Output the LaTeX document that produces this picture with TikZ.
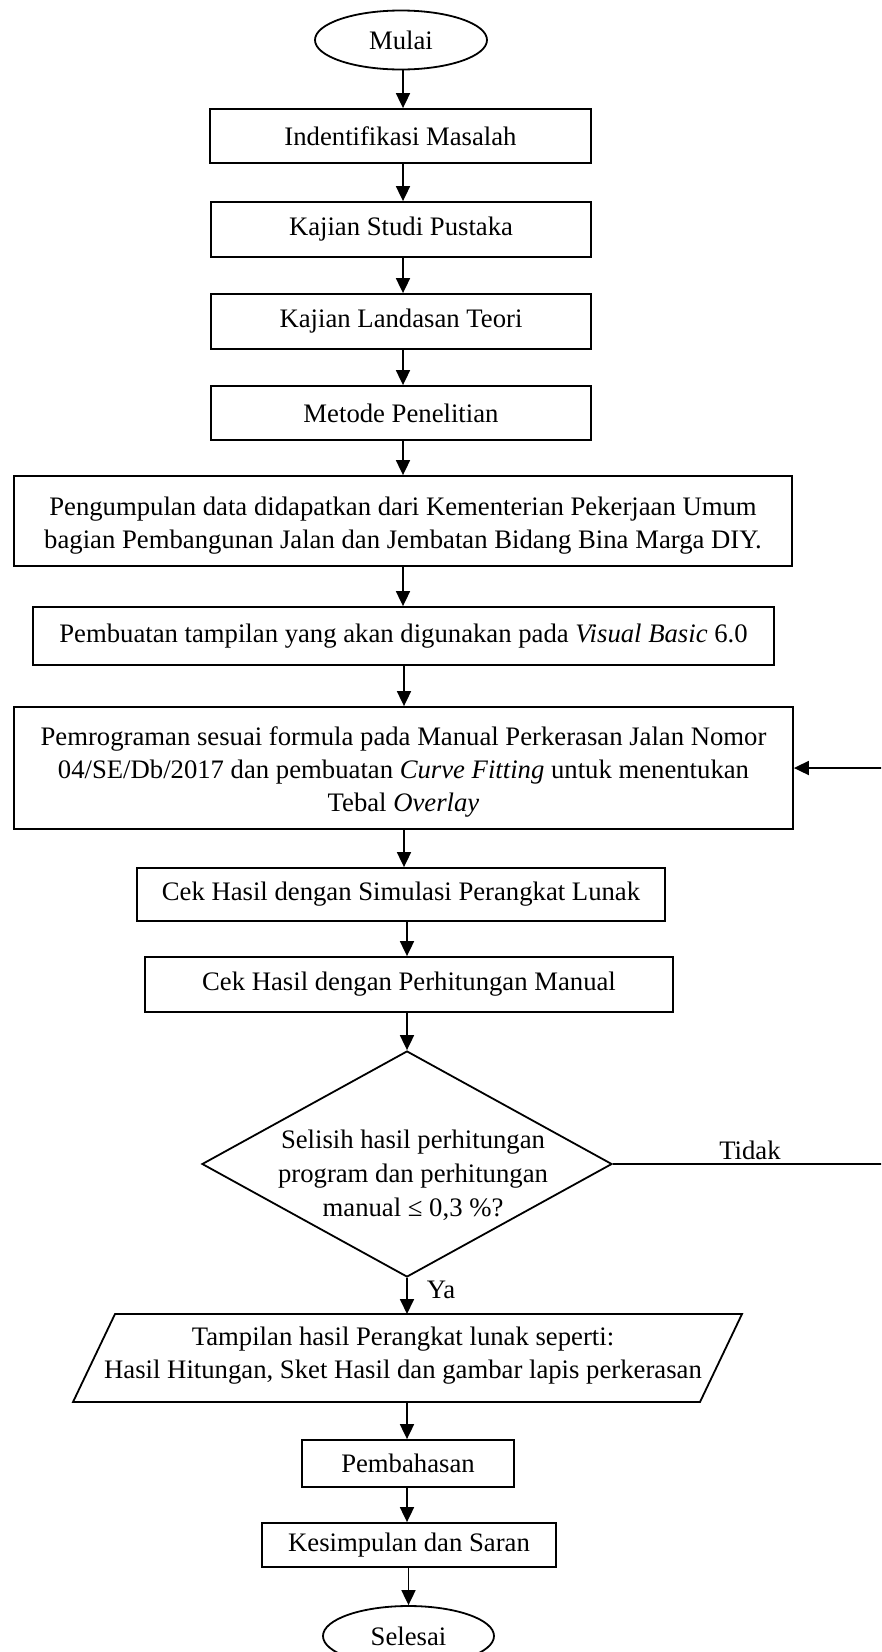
\documentclass[tikz,border=0pt]{standalone}
\usepackage{fontspec}
\setmainfont{Liberation Serif}
\usetikzlibrary{shapes.geometric,arrows.meta,calc}
\begin{document}
\begin{tikzpicture}[x=1pt,y=-1pt,
  every node/.style={font=\fontsize{26.7}{33}\selectfont},
  box/.style={draw, line width=1.8pt, inner sep=0pt, align=center},
  term/.style={draw, ellipse, line width=1.8pt, inner sep=0pt},
  arr/.style={line width=1.8pt, -{Triangle[length=15pt,width=14pt]}},
  conn/.style={line width=1.8pt}]
\useasboundingbox (0,0) rectangle (881,1652);
\clip (0,0) rectangle (881,1652);
% columns for arrows
\coordinate (ca) at (403,0);
\coordinate (cb) at (404,0);
\coordinate (cc) at (407,0);
% nodes
\node[term, minimum width=172pt, minimum height=59pt] (start) at (401,40) {Mulai};
\node[box, minimum width=381pt, minimum height=54pt] (n1) at (400.5,136) {Indentifikasi Masalah};
\node[box, minimum width=380pt, minimum height=55pt] (n2) at (401,229.5) {Kajian Studi Pustaka};
\node[box, minimum width=380pt, minimum height=55pt] (n3) at (401,321.5) {Kajian Landasan Teori};
\node[box, minimum width=380pt, minimum height=54pt] (n4) at (401,413) {Metode Penelitian};
\node[box, minimum width=778pt, minimum height=90pt] (n5) at (403,521) {};
\node[align=center] (t5) at (403,526) {Pengumpulan data didapatkan dari Kementerian Pekerjaan Umum\\bagian Pembangunan Jalan dan Jembatan Bidang Bina Marga DIY.};
\node[box, minimum width=741pt, minimum height=58pt] (n6) at (403.5,636) {Pembuatan tampilan yang akan digunakan pada \textit{Visual Basic} 6.0};
\node[box, minimum width=779pt, minimum height=122pt] (n7) at (403.5,768) {};
\node[align=center] (t7) at (403.5,771.5) {Pemrograman sesuai formula pada Manual Perkerasan Jalan Nomor\\04/SE/Db/2017 dan pembuatan \textit{Curve Fitting} untuk menentukan\\Tebal \textit{Overlay}};
\node[box, minimum width=528pt, minimum height=53pt] (n8) at (401,894.5) {Cek Hasil dengan Simulasi Perangkat Lunak};
\node[box, minimum width=528pt, minimum height=55pt] (n9) at (409,984.5) {Cek Hasil dengan Perhitungan Manual};
\node[diamond, draw, line width=1.8pt, inner sep=0pt, aspect=1.81, minimum width=410pt, minimum height=226pt] (dec) at (407,1164) {};
\node[align=center, font=\fontsize{26.7}{34}\selectfont] (dectext) at (413,1175) {Selisih hasil perhitungan\\program dan perhitungan\\manual ≤ 0,3 \%?};
% parallelogram
\coordinate (paratop) at (407,1314);
\coordinate (parabot) at (407,1402);
\draw[conn] (115,1314) -- (742,1314) -- (700,1402) -- (73,1402) -- cycle;
\node[align=center] (para) at (403,1356) {Tampilan hasil Perangkat lunak seperti:\\Hasil Hitungan, Sket Hasil dan gambar lapis perkerasan};
\node[box, minimum width=212pt, minimum height=47pt] (n10) at (408,1463.5) {Pembahasan};
\node[box, minimum width=294pt, minimum height=44pt] (n11) at (409,1545) {Kesimpulan dan Saran};
\node[term, minimum width=171pt, minimum height=60pt] (end) at (408.5,1636) {Selesai};
% connectors
\draw[arr] (start.south -| ca) -- (n1.north -| ca);
\draw[arr] (n1.south -| ca) -- (n2.north -| ca);
\draw[arr] (n2.south -| ca) -- (n3.north -| ca);
\draw[arr] (n3.south -| ca) -- (n4.north -| ca);
\draw[arr] (n4.south -| ca) -- (n5.north -| ca);
\draw[arr] (n5.south -| ca) -- (n6.north -| ca);
\draw[arr] (n6.south -| cb) -- (n7.north -| cb);
\draw[arr] (n7.south -| cb) -- (n8.north -| cb);
\draw[arr] (n8.south -| cc) -- (n9.north -| cc);
\draw[arr] (n9.south -| cc) -- (dec.north);
\draw[arr] (dec.south) -- (paratop);
\draw[arr] (parabot) -- (n10.north -| cc);
\draw[arr] (n10.south -| cc) -- (n11.north -| cc);
\draw[arr] (n11.south -| end) -- (end.north);
% feedback
\coordinate (fb1) at (892,1164);
\coordinate (fb2) at (892,768);
\draw[conn] (dec.east) -- (fb1) -- (fb2);
\draw[arr] (fb2) -- (n7.east);
\node (tidak) at (750,1150) {Tidak};
\node (ya) at (441,1290) {Ya};
\end{tikzpicture}
\end{document}
